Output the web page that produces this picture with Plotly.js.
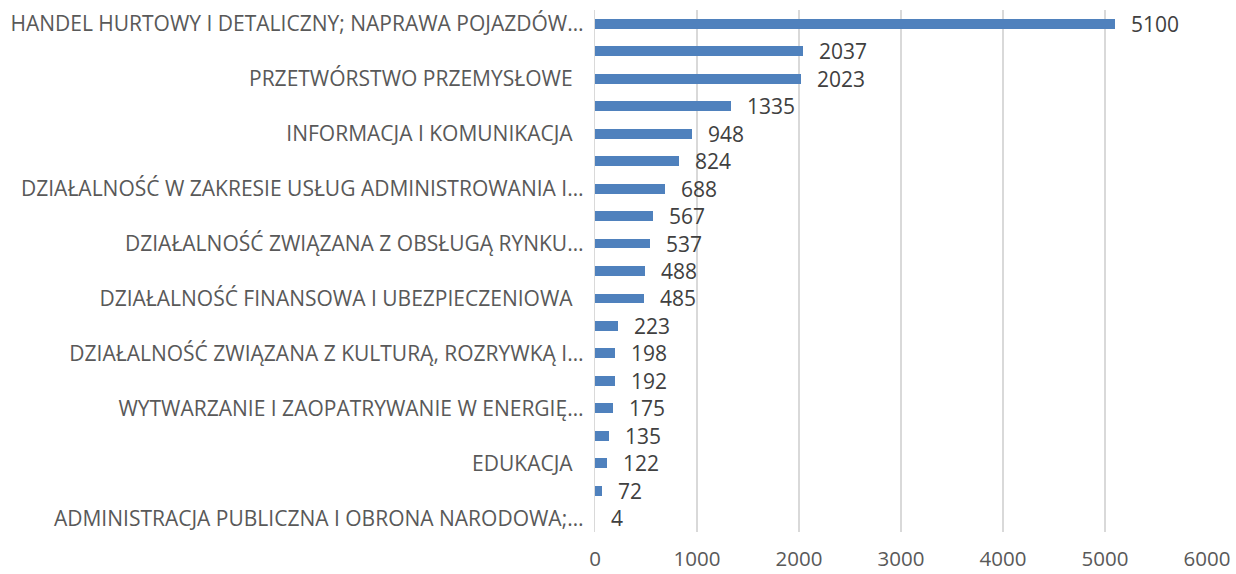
<!DOCTYPE html>
<html>
<head>
<meta charset="utf-8">
<script src="https://cdn.plot.ly/plotly-3.0.1.min.js"></script>
<style>html,body{margin:0;padding:0;background:#fff;}#chart{width:1236px;height:574px;}</style>
</head>
<body>
<div id="chart"></div>
<script>
// Category positions (top to bottom); only every other category label is shown in the reference
const positions = [0,1,2,3,4,5,6,7,8,9,10,11,12,13,14,15,16,17,18];
const values = [5100,2037,2023,1335,948,824,688,567,537,488,485,223,198,192,175,135,122,72,4];
const labelPositions = [0,2,4,6,8,10,12,14,16,18];
const labelTexts = [
  "HANDEL HURTOWY I DETALICZNY; NAPRAWA POJAZDÓW…",
  "PRZETWÓRSTWO PRZEMYSŁOWE\u00a0\u00a0",
  "INFORMACJA I KOMUNIKACJA\u00a0\u00a0",
  "DZIAŁALNOŚĆ W ZAKRESIE USŁUG ADMINISTROWANIA I…",
  "DZIAŁALNOŚĆ ZWIĄZANA Z OBSŁUGĄ RYNKU…",
  "DZIAŁALNOŚĆ FINANSOWA I UBEZPIECZENIOWA\u00a0\u00a0",
  "DZIAŁALNOŚĆ ZWIĄZANA Z KULTURĄ, ROZRYWKĄ I…",
  "WYTWARZANIE I ZAOPATRYWANIE W ENERGIĘ…",
  "EDUKACJA\u00a0\u00a0",
  "ADMINISTRACJA PUBLICZNA I OBRONA NARODOWA;…"
];
const xTicks = [0,1000,2000,3000,4000,5000,6000];

const FONT = "Open Sans, sans-serif";

const trace = {
  type: "bar",
  orientation: "h",
  x: values,
  y: positions,
  width: 0.36,
  marker: {color: "#4f81bd", line: {width: 0}},
  hoverinfo: "x",
  cliponaxis: false
};

const annotations = values.map((v, i) => ({
  x: v, y: positions[i], xref: "x", yref: "y",
  text: String(v), showarrow: false,
  xanchor: "left", yanchor: "middle", xshift: 14, yshift: 0,
  font: {family: FONT, size: 21, color: "#404040"}
}));

const layout = {
  width: 1236, height: 574,
  margin: {l: 595, r: 29, t: 10, b: 42, pad: 0},
  paper_bgcolor: "#ffffff", plot_bgcolor: "#ffffff",
  showlegend: false,
  bargap: 0,
  xaxis: {
    range: [0, 6000], tickvals: xTicks, ticktext: xTicks.map(String),
    showgrid: true, gridcolor: "#d9d9d9", gridwidth: 1.3,
    zeroline: false, showline: false, ticks: "",
    tickfont: {family: FONT, size: 20.5, color: "#595959"},
    ticklabelstandoff: 12, fixedrange: true
  },
  yaxis: {
    range: [18.5, -0.5], tickmode: "array",
    tickvals: labelPositions, ticktext: labelTexts,
    showgrid: false, zeroline: false,
    showline: true, linecolor: "#d9d9d9", linewidth: 1.3,
    ticks: "", ticklabelstandoff: 6,
    tickfont: {family: FONT, size: 21, color: "#595959"},
    fixedrange: true
  },
  annotations: annotations
};

Plotly.newPlot("chart", [trace], layout, {displayModeBar: false, staticPlot: true});
</script>
</body>
</html>
